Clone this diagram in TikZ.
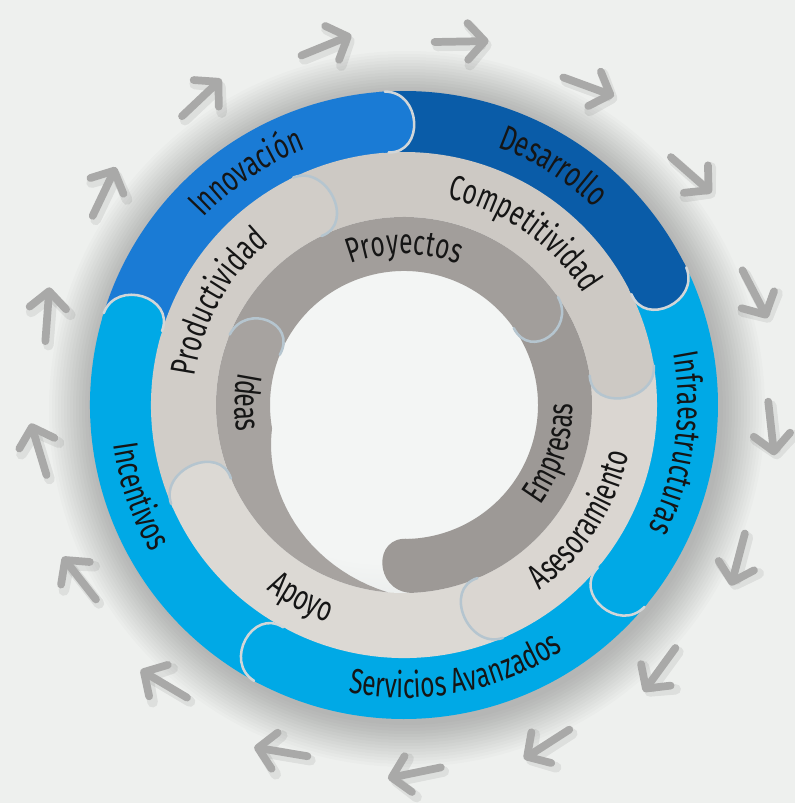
\documentclass[tikz,border=0pt]{standalone}
\usepackage{fontspec}
\usepackage{tikz}
\usetikzlibrary{arrows.meta, decorations.text}
\newfontfamily\labelfont{Fira Sans}[FakeStretch=0.7]
\definecolor{bgcol}{HTML}{EEF0EE}
\definecolor{innovblue}{HTML}{1A7BD5}
\definecolor{desblue}{HTML}{0A5CA8}
\definecolor{skyblue}{HTML}{00A9E6}
\definecolor{prodgray}{HTML}{D1CDC8}
\definecolor{compgray}{HTML}{CDC9C4}
\definecolor{asesgray}{HTML}{DAD6D1}
\definecolor{apoygray}{HTML}{DCD9D4}
\definecolor{proygray}{HTML}{A29E9B}
\definecolor{ideagray}{HTML}{A7A3A0}
\definecolor{empgray}{HTML}{9D9996}
\definecolor{capline}{HTML}{D2D6D8}
\definecolor{capblue}{HTML}{B5C5CF}
\definecolor{arrowgray}{HTML}{A9A9A8}
\definecolor{textcol}{HTML}{151515}
\definecolor{holein}{HTML}{F3F5F4}
\definecolor{holeout}{HTML}{CDD1D2}
\pgfdeclareradialshading{holeshade}{\pgfpoint{-6bp}{6bp}}{color(0bp)=(holein); color(24bp)=(holein); color(36bp)=(holeout!60!holein); color(50bp)=(holeout)}

% ring sector: colour, from, to, inner, outer
\newcommand{\ringpart}[5]{%
  \fill[#1] (#2:#5) arc[start angle=#2, end angle=#3, radius=#5]
    -- (#3:#4) arc[start angle=#3, end angle=#2, radius=#4] -- cycle;}
% rounded end of a sector: colour, line, angle, inner, outer
\newcommand{\ringcap}[5]{%
  \fill[#1] (#3+1:#5) -- (#3:#5) .. controls ({#3-2100/#5}:#5) and ({#3-2100/#4}:#4) .. (#3:#4)
    -- (#3+1:#4) -- cycle;
  \draw[#2] (#3:#5) .. controls ({#3-2100/#5}:#5) and ({#3-2100/#4}:#4) .. (#3:#4);}

\tikzset{
  bluecap/.style={draw=capline, line width=1.8pt},
  graycap/.style={draw=capblue, line width=1.8pt},
  nocap/.style={draw=none},
  ringtext/.style={decorate, decoration={text along path, text align=center,
    text={|\labelfont\fontsize{25}{25}\selectfont\color{textcol}|#1}}},
  arrowline/.style={draw=arrowgray, line width=5.5pt, -{Straight Barb[round, length=12pt, width=26pt]}},
  arrowshadow/.style={draw=black, opacity=.07, line width=7.5pt, -{Straight Barb[round, length=12pt, width=28pt]}}
}

\begin{document}
\begin{tikzpicture}[x=0.025cm, y=0.025cm, line cap=round]
  % Background and shadow
  \fill[bgcol] (-404,-398) rectangle (391,405);
  \useasboundingbox (-404,-398) rectangle (391,405);
  \foreach \r in {316,319,...,358}
    \fill[black, opacity=.015] (3,-4) circle (\r);

  % Outer ring
  \ringpart{innovblue}{93.5}{163}{251}{314}
  \ringpart{desblue}{26}{93.5}{251}{314}
  \ringpart{skyblue}{-40}{26}{251}{314}
  \ringpart{skyblue}{-118.5}{-40}{251}{314}
  \ringpart{skyblue}{163}{241.5}{251}{314}

  % Middle ring
  \ringpart{compgray}{9}{116}{186}{253}
  \ringpart{asesgray}{-67}{9}{186}{253}
  \ringpart{apoygray}{-157}{-67}{186}{253}
  \ringpart{prodgray}{116}{203}{186}{253}

  % Hole
  \shade[shading=holeshade] (0,0) circle (188);

  % Inner ring
  \ringpart{proygray}{35}{158}{134}{188}
  \ringpart{empgray}{-88}{35}{134}{188}
  \fill[ideagray] (265:188) arc[start angle=265, end angle=158, radius=188]
    -- (158:134) arc[start angle=158, end angle=190, radius=134]
    -- plot[domain=190:265, samples=25] (\x:{134+0.72*(\x-190)}) -- cycle;

  % Rounded ends
  \ringcap{innovblue}{bluecap}{93.5}{253}{314}
  \ringcap{desblue}{bluecap}{26}{253}{314}
  \ringcap{skyblue}{bluecap}{-40}{253}{314}
  \ringcap{skyblue}{bluecap}{-118.5}{253}{314}
  \ringcap{skyblue}{bluecap}{163}{253}{314}
  \ringcap{prodgray}{graycap}{116}{188}{253}
  \ringcap{compgray}{graycap}{9}{188}{253}
  \ringcap{asesgray}{graycap}{-67}{188}{253}
  \ringcap{apoygray}{graycap}{203}{188}{253}
  \ringcap{proygray}{graycap}{35}{134}{188}
  \ringcap{ideagray}{graycap}{158}{134}{188}
  \ringcap{empgray}{nocap}{-88}{134}{188}

  % Labels
  \path[ringtext=Innovación] (194:274) arc[start angle=194, end angle=54, radius=274];
  \path[ringtext=Desarrollo] (128:274) arc[start angle=128, end angle=-12, radius=274];
  \path[ringtext=Infraestructuras] (62:274) arc[start angle=62, end angle=-78, radius=274];
  \path[ringtext=Servicios Avanzados] (-149:293) arc[start angle=-149, end angle=-9, radius=293];
  \path[ringtext=Incentivos] (129:293) arc[start angle=129, end angle=269, radius=293];
  \path[ringtext=Productividad] (221:211) arc[start angle=221, end angle=81, radius=211];
  \path[ringtext=Competitividad] (125:211) arc[start angle=125, end angle=-15, radius=211];
  \path[ringtext=Asesoramiento] (-103:230) arc[start angle=-103, end angle=37, radius=230];
  \path[ringtext=Apoyo] (172:230) arc[start angle=172, end angle=312, radius=230];
  \path[ringtext=Proyectos] (160:151) arc[start angle=160, end angle=20, radius=151];
  \path[ringtext=Empresas] (-88:169) arc[start angle=-88, end angle=52, radius=169];
  \path[ringtext=Ideas] (109:169) arc[start angle=109, end angle=249, radius=169];

  % Arrows round the rings
  \foreach \i in {0,...,16}{
    \pgfmathsetmacro\ang{81+21.18*\i}
    \coordinate (arrow\i) at (\ang:368);
    \draw[arrowshadow] ([shift={(3,-4)}]arrow\i) ++(\ang+100:27) -- ++(\ang-80:54);
    \draw[arrowline] (arrow\i) ++(\ang+100:27) -- ++(\ang-80:54);
  }
\end{tikzpicture}
\end{document}
